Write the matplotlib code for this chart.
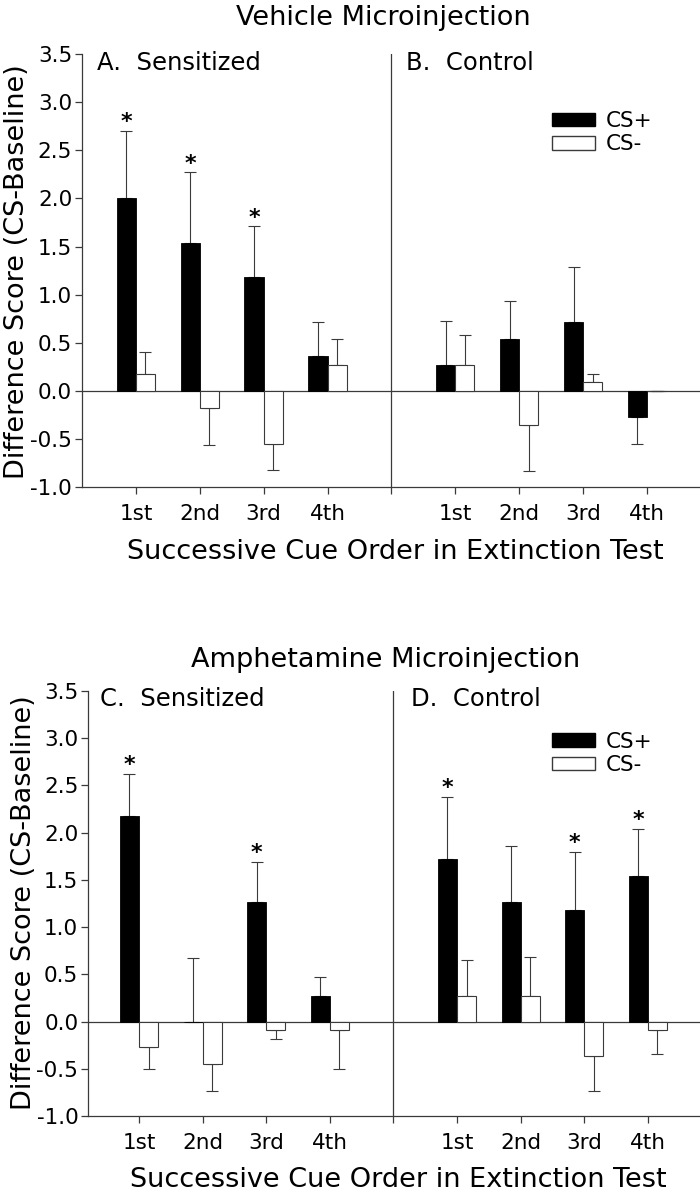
import numpy as np
import matplotlib.pyplot as plt
from matplotlib.patches import Patch

plt.rcParams['font.family'] = 'DejaVu Sans'
plt.rcParams['axes.unicode_minus'] = False

cues = ['1st', '2nd', '3rd', '4th']

# Vehicle microinjection (A: sensitized, B: control)
a_plus = [2.00, 1.54, 1.18, 0.36]
a_plus_err = [0.70, 0.73, 0.53, 0.36]
a_minus = [0.18, -0.18, -0.55, 0.27]
a_minus_err = [0.22, 0.38, 0.27, 0.27]
b_plus = [0.27, 0.54, 0.72, -0.27]
b_plus_err = [0.46, 0.39, 0.57, 0.28]
b_minus = [0.27, -0.36, 0.09, 0.0]
b_minus_err = [0.31, 0.47, 0.09, 0.0]

# Amphetamine microinjection (C: sensitized, D: control)
c_plus = [2.18, 0.0, 1.27, 0.27]
c_plus_err = [0.44, 0.67, 0.42, 0.20]
c_minus = [-0.27, -0.45, -0.09, -0.09]
c_minus_err = [0.23, 0.28, 0.09, 0.41]
d_plus = [1.72, 1.27, 1.18, 1.54]
d_plus_err = [0.66, 0.59, 0.62, 0.50]
d_minus = [0.27, 0.27, -0.36, -0.09]
d_minus_err = [0.38, 0.41, 0.38, 0.25]

# significant CS+ bars (index into cue order)
stars_a = [0, 1, 2]
stars_b = []
stars_c = [0, 2]
stars_d = [0, 2, 3]

GREY = '#3a3a3a'
W = 0.3


def one_sided(vals, errs):
    vals = np.asarray(vals)
    errs = np.asarray(errs)
    lower = np.where(vals < 0, errs, 0)
    upper = np.where(vals >= 0, errs, 0)
    return np.vstack([lower, upper])


def draw_group(ax, pos, plus, plus_err, minus, minus_err, stars):
    xp = pos - W / 2
    xm = pos + W / 2
    ax.bar(xp, plus, W, color='black', edgecolor='black', linewidth=0.6, zorder=3)
    ax.bar(xm, minus, W, color='white', edgecolor=GREY, linewidth=0.8, zorder=3)
    ax.errorbar(xp, plus, yerr=one_sided(plus, plus_err), fmt='none',
                ecolor=GREY, elinewidth=0.8, capsize=4.5, capthick=0.8, zorder=2)
    ax.errorbar(xm, minus, yerr=one_sided(minus, minus_err), fmt='none',
                ecolor=GREY, elinewidth=0.8, capsize=4.5, capthick=0.8, zorder=2)
    for i in stars:
        top = plus[i] + plus_err[i]
        ax.annotate('*', (xp[i], top), xytext=(0, -1), textcoords='offset points',
                    ha='center', va='bottom', fontsize=16, fontweight='bold')


def setup(ax, xlim):
    ax.set_xlim(*xlim)
    ax.set_ylim(-1.0, 3.5)
    ax.set_yticks(np.arange(-1.0, 3.51, 0.5))
    ax.set_yticklabels([f'{v:.1f}' for v in np.arange(-1.0, 3.51, 0.5)], fontsize=15.5)
    ax.set_xticks(np.arange(1, 10))
    ax.set_xticklabels(cues + [''] + cues, fontsize=15.5)
    for s in ['top', 'right']:
        ax.spines[s].set_visible(False)
    for s in ['left', 'bottom']:
        ax.spines[s].set_color(GREY)
        ax.spines[s].set_linewidth(0.9)
    ax.tick_params(direction='out', length=5, width=0.9, color=GREY, pad=2)
    ax.tick_params(axis='x', pad=7)
    ax.axhline(0, color=GREY, lw=0.9, zorder=1)
    ax.axvline(5, color=GREY, lw=0.9, zorder=1)


fig = plt.figure(figsize=(7, 11.99), dpi=100)
ax1 = fig.add_axes([0.117, 0.5938, 0.883, 0.3611])
ax2 = fig.add_axes([0.1257, 0.0692, 0.8743, 0.3545])

left = np.arange(1, 5)
right = np.arange(6, 10)

setup(ax1, (0.155, 9.83))
draw_group(ax1, left, a_plus, a_plus_err, a_minus, a_minus_err, stars_a)
draw_group(ax1, right, b_plus, b_plus_err, b_minus, b_minus_err, stars_b)

setup(ax2, (0.198, 9.82))
draw_group(ax2, left, c_plus, c_plus_err, c_minus, c_minus_err, stars_c)
draw_group(ax2, right, d_plus, d_plus_err, d_minus, d_minus_err, stars_d)

handles = [Patch(facecolor='black', edgecolor='black', label='CS+'),
           Patch(facecolor='white', edgecolor=GREY, label='CS-')]
for ax, anchor in [(ax1, (0.760, 0.868)), (ax2, (0.758, 0.904))]:
    ax.legend(handles=handles, loc='upper left', bbox_to_anchor=anchor,
              frameon=False, fontsize=15.5, handlelength=2.0, handleheight=0.6,
              handletextpad=0.5, labelspacing=0.15, borderpad=0, borderaxespad=0)

# panel letters
ax1.text(0.024, 0.98, 'A.  Sensitized', transform=ax1.transAxes, fontsize=17.5, va='center')
ax1.text(0.524, 0.98, 'B.  Control', transform=ax1.transAxes, fontsize=17.5, va='center')
ax2.text(0.02, 0.98, 'C.  Sensitized', transform=ax2.transAxes, fontsize=17.5, va='center')
ax2.text(0.528, 0.98, 'D.  Control', transform=ax2.transAxes, fontsize=17.5, va='center')

fig.text(383 / 700, 1 - 18 / 1199, 'Vehicle Microinjection', ha='center', va='center', fontsize=19.5)
fig.text(386 / 700, 1 - 660 / 1199, 'Amphetamine Microinjection', ha='center', va='center', fontsize=19.5)

fig.text(395 / 700, 1 - 552 / 1199, 'Successive Cue Order in Extinction Test',
         ha='center', va='center', fontsize=19.5)
fig.text(398 / 700, 1 - 1180 / 1199, 'Successive Cue Order in Extinction Test',
         ha='center', va='center', fontsize=19.5)

fig.text(17 / 700, 1 - 272 / 1199, 'Difference Score (CS-Baseline)', rotation=90,
         ha='center', va='center', fontsize=19.5)
fig.text(24 / 700, 1 - 903 / 1199, 'Difference Score (CS-Baseline)', rotation=90,
         ha='center', va='center', fontsize=19.5)

fig.savefig('out.png', dpi=100, facecolor='white')
